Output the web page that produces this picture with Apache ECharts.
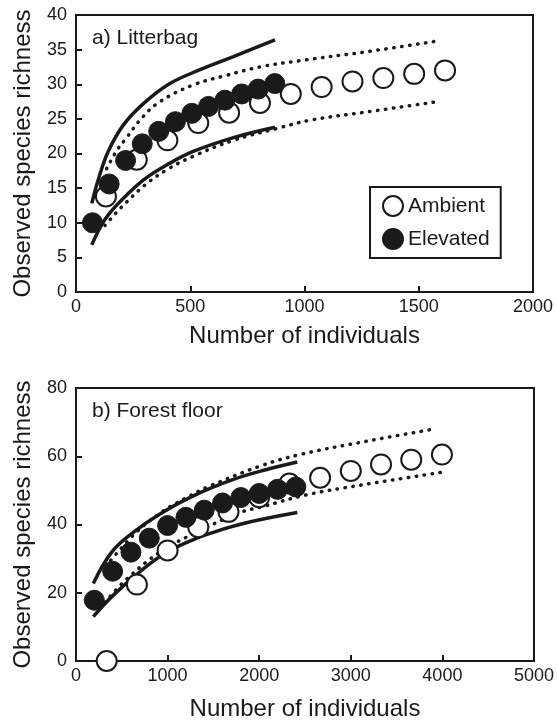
<!DOCTYPE html>
<html>
<head>
<meta charset="utf-8">
<script src="https://cdn.jsdelivr.net/npm/echarts@6/dist/echarts.min.js"></script>
<style>
  html, body { margin: 0; padding: 0; background: #fff; }
  #main { width: 557px; height: 722px; }
</style>
</head>
<body>
<div id="main"></div>
<script>
// a) Litterbag
const litterAmbX = [131, 266, 400, 535, 670, 805, 940, 1075, 1210, 1345, 1480, 1615];
const litterAmbY = [13.8, 19.1, 21.9, 24.4, 25.9, 27.3, 28.6, 29.6, 30.4, 30.9, 31.5, 32.0];
const litterElevX = [72, 145, 217, 290, 362, 435, 507, 580, 652, 725, 797, 870];
const litterElevY = [10.0, 15.6, 19.0, 21.4, 23.2, 24.6, 25.8, 26.8, 27.7, 28.6, 29.3, 30.1];
// confidence curves: solid = elevated, dotted = ambient
const litterElevHiX = [69, 100, 141, 207, 295, 411, 543, 689, 871];
const litterElevHiY = [12.8, 16.5, 20.3, 24.1, 27.2, 30.1, 32.1, 34.0, 36.4];
const litterElevLoX = [69, 110, 150, 222, 300, 400, 513, 689, 871];
const litterElevLoY = [6.8, 9.6, 11.5, 14.0, 16.3, 18.4, 20.3, 22.3, 23.8];
const litterAmbHiX = [134, 180, 222, 290, 368, 513, 660, 805, 980, 1272, 1593];
const litterAmbHiY = [17.8, 20.5, 22.3, 25.2, 27.5, 29.9, 31.3, 32.5, 33.4, 34.7, 36.3];
const litterAmbLoX = [127, 180, 222, 300, 400, 513, 689, 878, 1024, 1272, 1586];
const litterAmbLoY = [9.6, 11.6, 13.0, 15.4, 17.7, 19.6, 21.9, 23.6, 24.8, 26.0, 27.5];

// b) Forest floor
const forestAmbX = [335, 665, 1000, 1335, 1665, 2000, 2330, 2665, 3000, 3330, 3660, 3995];
const forestAmbY = [0, 22.4, 32.4, 39.2, 43.7, 48.0, 52.0, 53.7, 55.7, 57.6, 59.0, 60.5];
const forestElevX = [200, 400, 600, 800, 1000, 1200, 1400, 1600, 1800, 2000, 2200, 2400];
const forestElevY = [17.8, 26.3, 31.9, 36.0, 39.7, 42.1, 44.2, 46.3, 47.9, 49.1, 50.3, 51.0];
const forestElevHiX = [189, 390, 626, 917, 1281, 1718, 2082, 2416];
const forestElevHiY = [22.7, 31.9, 37.7, 43.1, 48.4, 53.2, 56.1, 58.3];
const forestElevLoX = [189, 408, 735, 1000, 1300, 1463, 1827, 2416];
const forestElevLoY = [13.0, 19.3, 27.0, 32.0, 35.8, 37.4, 40.3, 43.5];
const forestAmbHiX = [380, 650, 917, 1200, 1463, 2009, 2445, 3173, 3919];
const forestAmbHiY = [29.5, 37.5, 43.3, 47.8, 51.3, 57.1, 60.5, 64.4, 68.0];
const forestAmbLoX = [317, 553, 917, 1354, 1790, 2045, 2519, 3100, 3992];
const forestAmbLoY = [17.2, 24.0, 31.9, 38.2, 43.5, 45.3, 48.7, 51.5, 55.3];

const FONT = 'Liberation Sans';
const INK = '#1a1a1a';

function pairs(xs, ys) {
  return xs.map((x, i) => [x, ys[i]]);
}

function curve(xs, ys, idx, dotted) {
  return {
    type: 'line',
    xAxisIndex: idx,
    yAxisIndex: idx,
    data: pairs(xs, ys),
    smooth: 0.4,
    showSymbol: false,
    silent: true,
    z: 2,
    lineStyle: dotted
      ? { color: INK, width: 3.5, type: [0.5, 7.5], cap: 'round' }
      : { color: INK, width: 3.5 }
  };
}

function dots(name, xs, ys, idx, filled) {
  return {
    name: name,
    type: 'scatter',
    xAxisIndex: idx,
    yAxisIndex: idx,
    data: pairs(xs, ys),
    symbol: 'circle',
    symbolSize: 20,
    clip: false,
    z: filled ? 4 : 3,
    itemStyle: filled
      ? { color: INK, borderColor: INK, borderWidth: 1, opacity: 1 }
      : { color: '#fff', borderColor: INK, borderWidth: 2, opacity: 1 }
  };
}

function xAx(idx, max, step, gap) {
  return {
    type: 'value', gridIndex: idx, min: 0, max: max, interval: step,
    name: 'Number of individuals', nameLocation: 'middle', nameGap: gap,
    nameTextStyle: { fontFamily: FONT, fontSize: 24, color: INK },
    axisLine: { show: true, lineStyle: { color: INK, width: 2 } },
    axisTick: { show: true, inside: true, length: 6, lineStyle: { color: INK, width: 2 } },
    axisLabel: { fontFamily: FONT, fontSize: 18, color: INK, margin: 6, formatter: v => String(v) },
    splitLine: { show: false }
  };
}

function yAx(idx, max, step) {
  return {
    type: 'value', gridIndex: idx, min: 0, max: max, interval: step,
    name: 'Observed species richness', nameLocation: 'middle', nameGap: 41,
    nameTextStyle: { fontFamily: FONT, fontSize: 24, color: INK },
    axisLine: { show: true, lineStyle: { color: INK, width: 2 } },
    axisTick: { show: true, inside: true, length: 6, lineStyle: { color: INK, width: 2 } },
    axisLabel: { fontFamily: FONT, fontSize: 18, color: INK, margin: 9, formatter: v => String(v) },
    splitLine: { show: false }
  };
}

const chart = echarts.init(document.getElementById('main'));
chart.setOption({
  animation: false,
  backgroundColor: '#fff',
  textStyle: { fontFamily: FONT },
  title: [
    { text: 'a) Litterbag', left: 92, top: 28, padding: 0,
      textStyle: { fontFamily: FONT, fontSize: 21, fontWeight: 'normal', color: INK } },
    { text: 'b) Forest floor', left: 92, top: 401, padding: 0,
      textStyle: { fontFamily: FONT, fontSize: 21, fontWeight: 'normal', color: INK } }
  ],
  legend: {
    data: ['Ambient', 'Elevated'],
    orient: 'vertical',
    left: 370, top: 187,
    padding: [8, 11, 8, 12],
    itemGap: 11,
    itemWidth: 20, itemHeight: 20,
    borderColor: INK, borderWidth: 2,
    selectedMode: false,
    textStyle: { fontFamily: FONT, fontSize: 21, color: INK }
  },
  grid: [
    { left: 76, top: 15, width: 457, height: 277, show: true, borderColor: INK, borderWidth: 2 },
    { left: 76, top: 388, width: 458, height: 275, show: true, borderColor: INK, borderWidth: 2 }
  ],
  xAxis: [xAx(0, 2000, 500, 32), xAx(1, 5000, 1000, 36)],
  yAxis: [yAx(0, 40, 5), yAx(1, 80, 20)],
  series: [
    curve(litterElevHiX, litterElevHiY, 0, false),
    curve(litterElevLoX, litterElevLoY, 0, false),
    curve(litterAmbHiX, litterAmbHiY, 0, true),
    curve(litterAmbLoX, litterAmbLoY, 0, true),
    dots('Ambient', litterAmbX, litterAmbY, 0, false),
    dots('Elevated', litterElevX, litterElevY, 0, true),
    curve(forestElevHiX, forestElevHiY, 1, false),
    curve(forestElevLoX, forestElevLoY, 1, false),
    curve(forestAmbHiX, forestAmbHiY, 1, true),
    curve(forestAmbLoX, forestAmbLoY, 1, true),
    dots('Ambient', forestAmbX, forestAmbY, 1, false),
    dots('Elevated', forestElevX, forestElevY, 1, true)
  ]
});
</script>
</body>
</html>
